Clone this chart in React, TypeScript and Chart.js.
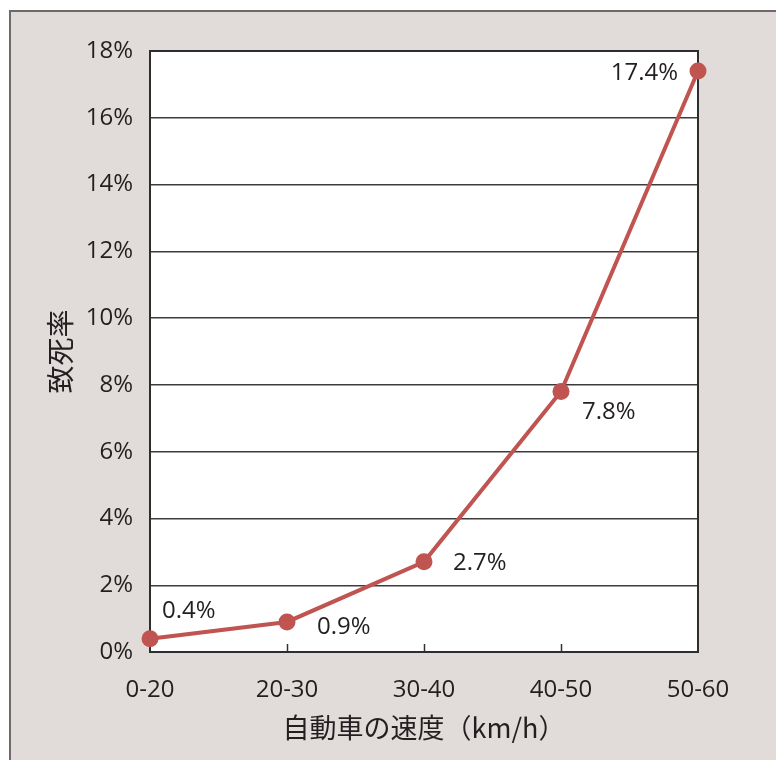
import React, { useEffect, useRef } from 'react';
import { Chart, registerables } from 'chart.js';

Chart.register(...registerables);

// ---- data ----
const speedCategories: string[] = ['0-20', '20-30', '30-40', '40-50', '50-60'];
const fatalityRate: number[] = [0.4, 0.9, 2.7, 7.8, 17.4];
const fatalityLabels: string[] = ['0.4%', '0.9%', '2.7%', '7.8%', '17.4%'];
const yAxisMin = 0;
const yAxisMax = 18;
const yAxisStep = 2;
const xAxisTitle = '自動車の速度（km/h）';
const yAxisTitle = '致死率';

// ---- styles ----
const TEXT = '#231f20';
const LINE = '#bf5451';
const LATIN = '"Open Sans", "Noto Sans", sans-serif';
const CJK = '"Noto Sans CJK JP", "Open Sans", sans-serif';
const labelPlacement = [
  { dx: 12, dy: -27, align: 'left' },
  { dx: 30, dy: 5, align: 'left' },
  { dx: 29, dy: 1, align: 'left' },
  { dx: 21, dy: 21, align: 'left' },
  { dx: -20, dy: 2, align: 'right' },
];

const plotFramePlugin = {
  id: 'plotFrame',
  beforeDraw(chart: any) {
    const { ctx, chartArea } = chart;
    ctx.save();
    ctx.fillStyle = '#ffffff';
    ctx.fillRect(chartArea.left, chartArea.top, chartArea.right - chartArea.left, chartArea.bottom - chartArea.top);
    ctx.restore();
  },
  beforeDatasetsDraw(chart: any) {
    const { ctx, chartArea, scales } = chart;
    ctx.save();
    // inward ticks on x axis
    ctx.strokeStyle = '#333333';
    ctx.lineWidth = 1.5;
    const xs = scales.x;
    for (let i = 1; i < speedCategories.length - 1; i++) {
      const px = Math.round(xs.getPixelForValue(i)) + 0.5;
      ctx.beginPath();
      ctx.moveTo(px, chartArea.bottom);
      ctx.lineTo(px, chartArea.bottom - 8);
      ctx.stroke();
    }
    // plot border
    ctx.strokeStyle = '#2e2e2e';
    ctx.lineWidth = 2;
    ctx.strokeRect(chartArea.left, chartArea.top, chartArea.right - chartArea.left, chartArea.bottom - chartArea.top);
    ctx.restore();
  },
  afterDatasetsDraw(chart: any) {
    const { ctx } = chart;
    const meta = chart.getDatasetMeta(0);
    ctx.save();
    ctx.fillStyle = TEXT;
    ctx.font = `24px ${LATIN}`;
    ctx.textBaseline = 'middle';
    meta.data.forEach((pt: any, i: number) => {
      const p = labelPlacement[i];
      ctx.textAlign = p.align;
      ctx.fillText(fatalityLabels[i], pt.x + p.dx, pt.y + p.dy);
    });
    ctx.restore();
  },
};

export default function App() {
  const canvasRef = useRef<HTMLCanvasElement | null>(null);

  useEffect(() => {
    if (!canvasRef.current) return;
    const chart = new Chart(canvasRef.current, {
      type: 'line',
      data: {
        labels: speedCategories,
        datasets: [
          {
            data: fatalityRate,
            borderColor: LINE,
            backgroundColor: LINE,
            borderWidth: 4,
            pointRadius: 8.5,
            pointHoverRadius: 8.5,
            pointBackgroundColor: LINE,
            pointBorderWidth: 0,
            tension: 0,
            clip: false as any,
          },
        ],
      },
      options: {
        animation: false,
        responsive: false,
        maintainAspectRatio: false,
        events: [],
        layout: { padding: { top: 51, right: 78, left: 0, bottom: 0 } },
        plugins: {
          legend: { display: false },
          tooltip: { enabled: false },
        },
        scales: {
          x: {
            type: 'category',
            offset: false,
            grid: { display: false, drawTicks: false },
            border: { display: false },
            ticks: {
              color: TEXT,
              font: { family: LATIN, size: 24 },
              padding: 24,
              maxRotation: 0,
              autoSkip: false,
            },
            title: {
              display: true,
              text: xAxisTitle,
              color: TEXT,
              font: { family: CJK, size: 27 },
              padding: { top: 0, bottom: 16 },
            },
            afterFit: (s: any) => {
              s.height = 108;
            },
          },
          y: {
            min: yAxisMin,
            max: yAxisMax,
            grid: { color: '#3c3c3c', lineWidth: 1.4, drawTicks: false },
            border: { display: false },
            ticks: {
              stepSize: yAxisStep,
              color: TEXT,
              font: { family: LATIN, size: 24 },
              padding: 17,
              callback: (v: any) => `${v}%`,
            },
            title: {
              display: true,
              text: yAxisTitle,
              color: TEXT,
              font: { family: CJK, size: 28 },
              padding: { top: 44, bottom: 0 },
            },
            afterFit: (s: any) => {
              s.width = 150;
            },
          },
        },
      },
      plugins: [plotFramePlugin],
    });
    return () => chart.destroy();
  }, []);

  return (
    <div style={{ position: 'fixed', left: 0, top: 0, width: 776, height: 760, background: '#ffffff', overflow: 'hidden' }}>
      <div
        style={{
          position: 'absolute',
          left: 9,
          top: 10,
          right: -10,
          bottom: -10,
          background: '#e1dcda',
          borderTop: '2px solid #6e6a69',
          borderLeft: '2px solid #6e6a69',
        }}
      />
      <canvas ref={canvasRef} width={776} height={760} style={{ position: 'absolute', left: 0, top: 0, width: 776, height: 760 }} />
    </div>
  );
}
